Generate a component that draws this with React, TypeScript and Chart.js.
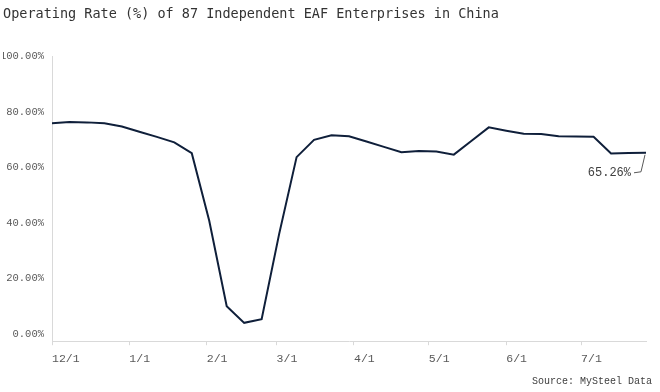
import React, { useEffect, useRef } from "react";
import { Chart, registerables } from "chart.js";

Chart.register(...registerables);

const titleText = "Operating Rate (%) of 87 Independent EAF Enterprises in China";
const sourceText = "Source: MySteel Data";

// days since 12/1 for each weekly observation
const dayOffsets = [0, 7, 14, 21, 28, 35, 42, 49, 56, 63, 70, 77, 84, 91, 98, 105, 112, 119, 126, 133, 140, 147, 154, 161, 168, 175, 182, 189, 196, 203, 210, 217, 224, 231, 238];
// operating rate (%)
const rates = [75.9, 76.3, 76.2, 75.9, 74.7, 72.8, 71.0, 69.0, 65.1, 40.8, 10.1, 4.1, 5.4, 36.0, 63.7, 69.9, 71.6, 71.2, 69.3, 67.4, 65.5, 65.9, 65.7, 64.6, 69.5, 74.4, 73.2, 72.1, 72.0, 71.2, 71.1, 71.0, 65.0, 65.2, 65.26];

const monthTicks = [0, 31, 62, 90, 121, 151, 182, 212];
const monthLabels = ["12/1", "1/1", "2/1", "3/1", "4/1", "5/1", "6/1", "7/1"];
const yTicks = [0, 20, 40, 60, 80, 100];

const MONO = '"Liberation Mono", "DejaVu Sans Mono", monospace';

const annotatePlugin = {
  id: "annotateLast",
  afterDatasetsDraw(chart: any) {
    const meta = chart.getDatasetMeta(0);
    const last = meta.data.length - 1;
    const pt = meta.data[last];
    const ctx = chart.ctx;
    ctx.save();
    ctx.strokeStyle = "#595959";
    ctx.lineWidth = 1;
    ctx.beginPath();
    ctx.moveTo(pt.x - 12, pt.y + 20);
    ctx.lineTo(pt.x - 5, pt.y + 19);
    ctx.lineTo(pt.x - 1, pt.y + 2);
    ctx.stroke();
    ctx.font = "12px " + MONO;
    ctx.fillStyle = "#404040";
    ctx.textAlign = "right";
    ctx.textBaseline = "middle";
    ctx.fillText(rates[last].toFixed(2) + "%", pt.x - 15, pt.y + 20);
    ctx.font = "10px " + MONO;
    ctx.fillText(sourceText, 652, 381);
    ctx.restore();
  },
};

export default function App() {
  const ref = useRef<HTMLCanvasElement | null>(null);

  useEffect(() => {
    if (!ref.current) return;
    const chart = new Chart(ref.current, {
      type: "line",
      data: {
        datasets: [
          {
            data: dayOffsets.map((d, i) => ({ x: d, y: rates[i] })),
            borderColor: "#0f1f3a",
            borderWidth: 2,
            pointRadius: 0,
            tension: 0,
            fill: false,
          },
        ],
      },
      options: {
        responsive: false,
        animation: false,
        layout: { padding: { left: 3, right: 14, top: 0, bottom: 19 } },
        plugins: {
          legend: { display: false },
          tooltip: { enabled: false },
          title: {
            display: true,
            text: titleText,
            align: "start",
            color: "#333333",
            font: { family: '"DejaVu Sans Mono", monospace', size: 13.5, weight: "normal" },
            padding: { top: 6, bottom: 34 },
          },
        },
        scales: {
          x: {
            type: "linear",
            min: 0,
            max: 238,
            afterBuildTicks: (axis: any) => {
              axis.ticks = monthTicks.map((v) => ({ value: v }));
            },
            ticks: {
              align: "start",
              autoSkip: false,
              maxRotation: 0,
              padding: 7,
              color: "#595959",
              font: { family: MONO, size: 11.5 },
              callback: (v: any) => {
                const i = monthTicks.indexOf(Number(v));
                return i >= 0 ? monthLabels[i] : "";
              },
            },
            grid: {
              display: true,
              drawOnChartArea: false,
              drawTicks: true,
              tickLength: 4,
              color: "#d9d9d9",
            },
            border: { display: true, color: "#d9d9d9", width: 1 },
          },
          y: {
            min: -2.5,
            max: 100,
            afterBuildTicks: (axis: any) => {
              axis.ticks = yTicks.map((v) => ({ value: v }));
            },
            afterFit: (axis: any) => {
              axis.width = 49;
            },
            ticks: {
              padding: 8,
              color: "#595959",
              font: { family: MONO, size: 10.5 },
              callback: (v: any) => Number(v).toFixed(2) + "%",
            },
            grid: { display: false, drawTicks: false },
            border: { display: true, color: "#d9d9d9", width: 1 },
          },
        },
      },
      plugins: [annotatePlugin],
    } as any);
    return () => chart.destroy();
  }, []);

  return (
    <div style={{ position: "fixed", left: 0, top: 0, width: 660, height: 392, background: "#ffffff" }}>
      <canvas ref={ref} width={660} height={392} />
    </div>
  );
}
